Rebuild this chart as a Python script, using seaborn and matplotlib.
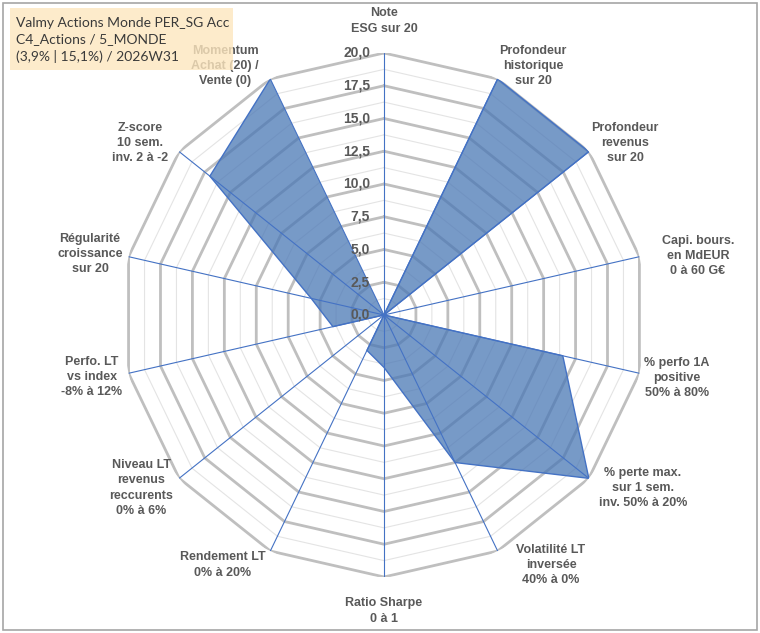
import numpy as np
import pandas as pd
import matplotlib
matplotlib.use("Agg")
import matplotlib.pyplot as plt
import matplotlib.transforms as mtransforms
from matplotlib.patches import Rectangle
import seaborn as sns

criteres = [
    "Note\nESG sur 20",
    "Profondeur\nhistorique\nsur 20",
    "Profondeur\nrevenus\nsur 20",
    "Capi. bours.\nen MdEUR\n0 à 60 G€",
    "% perfo 1A\npositive\n50% à 80%",
    "% perte max.\nsur 1 sem.\ninv. 50% à 20%",
    "Volatilité LT\ninversée\n40% à 0%",
    "Ratio Sharpe\n0 à 1",
    "Rendement LT\n0% à 20%",
    "Niveau LT\nrevenus\nreccurents\n0% à 6%",
    "Perfo. LT\nvs index\n-8% à 12%",
    "Régularité\ncroissance\nsur 20",
    "Z-score\n10 sem.\ninv. 2 à -2",
    "Momentum\nAchat (20) /\nVente (0)",
]
notes = [0, 20, 20, 0, 14, 20, 12.5, 4, 3, 0, 4, 5.7, 17, 20]
graduations = [0, 2.5, 5, 7.5, 10, 12.5, 15, 17.5, 20]
titre = "Valmy Actions Monde PER_SG Acc\nC4_Actions / 5_MONDE\n(3,9% | 15,1%) / 2026W31"

# label centres in pixels (Excel places them around the plot area)
pos_labels = [(384, 21), (533, 66), (625, 143), (698, 256), (677, 378),
              (643, 488), (551, 565), (384, 611), (223, 565), (141, 488),
              (92, 377), (90, 254), (140, 143), (225, 66)]

sns.set_theme(style="white")
plt.rcParams["font.family"] = ["Liberation Sans", "DejaVu Sans"]

W, H = 760, 633
n = len(criteres)
angles = np.arange(n) * 2 * np.pi / n
df = pd.DataFrame({"angle": np.append(angles, angles[0]),
                   "note": notes + [notes[0]]})

fig = plt.figure(figsize=(7.6, 6.33), dpi=100)
ax = fig.add_axes([0.1605, 0.0885, 0.6895, 0.8278], projection="polar")
ax.set_theta_zero_location("N")
ax.set_theta_direction(-1)
ax.set_ylim(0, 20)
ax.grid(False)
ax.set_xticks([])
ax.set_yticks([])
ax.spines["polar"].set_visible(False)
ax.set_facecolor("none")

# polygon grid: minor rings every 1.25, major every 2.5
ring_angles = np.append(angles, angles[0])
for r in np.arange(1.25, 20.01, 1.25):
    major = abs(r / 2.5 - round(r / 2.5)) < 1e-6
    ax.plot(ring_angles, [r] * len(ring_angles),
            color="#BFBFBF" if major else "#E4E4E4",
            lw=2.0 if major else 0.8, zorder=1)

# spokes
for a in angles:
    ax.plot([a, a], [0, 20], color="#4472C4", lw=0.8, zorder=4)

# data polygon
ax.fill(df["angle"], df["note"], color="#4A78B5", alpha=0.75, zorder=3, lw=0)
sns.lineplot(data=df, x="angle", y="note", sort=False, ax=ax,
             color="#4472C4", lw=1.0, zorder=4)
ax.set_xlabel("")
ax.set_ylabel("")

# radial tick labels
off = mtransforms.offset_copy(ax.transData, fig=fig, x=-10, y=0, units="points")
for g in graduations:
    ax.text(0, g, f"{g:.1f}".replace(".", ","), transform=off,
            ha="right", va="center", fontsize=10, fontweight="bold",
            color="#595959", zorder=6)

# axis labels
for lab, (px, py) in zip(criteres, pos_labels):
    fig.text(px / W, 1 - py / H, lab, ha="center", va="center",
             fontsize=9, fontweight="bold", color="#595959",
             linespacing=1.35, zorder=6)

# title box (semi-transparent, on top of the Momentum label as in Excel)
fig.patches.append(Rectangle((10 / W, 1 - 70 / H), 223 / W, 62 / H,
                             transform=fig.transFigure, facecolor="#FDE6BE",
                             edgecolor="none", alpha=0.8, zorder=10))
fig.text(16 / W, 1 - 40 / H, titre, ha="left", va="center",
         fontsize=10, color="#3A3A3A", family=["Lato", "DejaVu Sans"],
         linespacing=1.4, zorder=11)

# chart border
fig.patches.append(Rectangle((3 / W, 3 / H), 754 / W, 627 / H,
                             transform=fig.transFigure, facecolor="none",
                             edgecolor="#A6A6A6", lw=1.2, zorder=0))

fig.savefig("out.png", dpi=100)
